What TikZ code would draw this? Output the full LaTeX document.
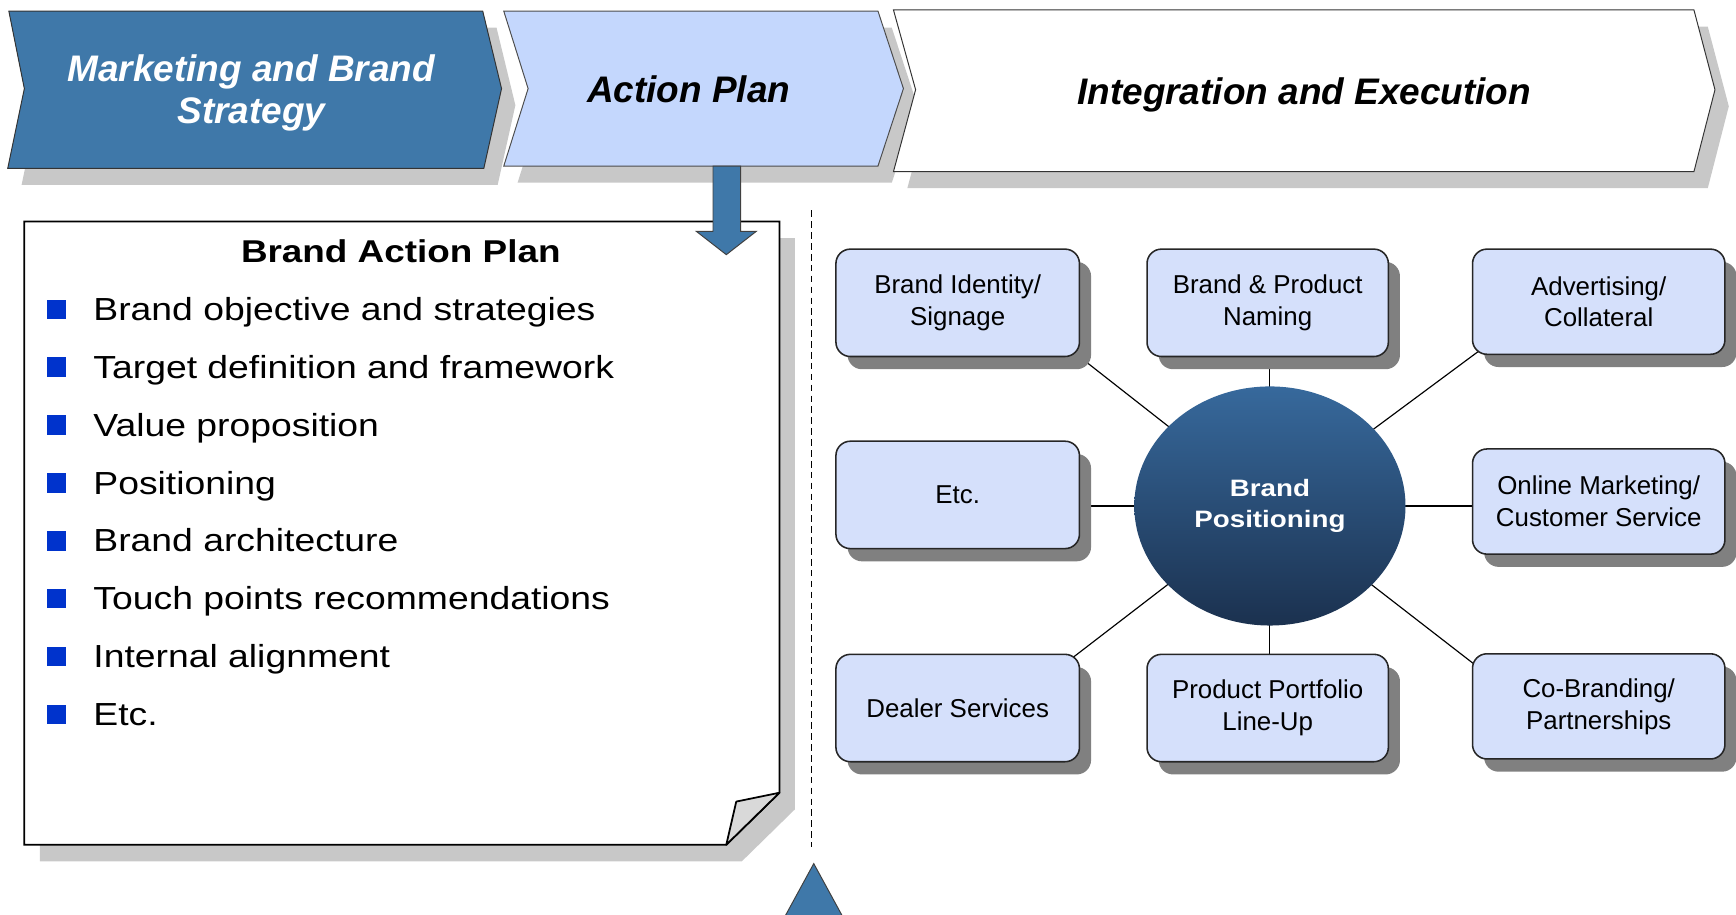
\documentclass[tikz,border=0pt]{standalone}
\usepackage{fontspec}
\setmainfont{Liberation Sans}
\newfontfamily\widefont[FakeStretch=1.17]{Liberation Sans}
\usetikzlibrary{shapes.geometric}
\usetikzlibrary{shadows}
\usetikzlibrary{positioning}

\definecolor{steel}{HTML}{3F78A9}
\definecolor{paleblue}{HTML}{C4D7FD}
\definecolor{boxblue}{HTML}{D5E0FB}
\definecolor{shadowgray}{HTML}{C8C8C8}
\definecolor{boxshadow}{HTML}{808080}
\definecolor{curlgray}{HTML}{D9D9D9}
\definecolor{bulletblue}{HTML}{0033CC}
\definecolor{ellTop}{HTML}{37699C}
\definecolor{ellBot}{HTML}{1B314F}

\pgfdeclarelayer{background}
\pgfsetlayers{background,main}

\begin{document}
\begin{tikzpicture}[x=0.02cm, y=-0.02cm,
  chevshadow/.style={drop shadow={shadow xshift=0.25cm, shadow yshift=-0.3cm, fill=shadowgray, opacity=1}},
  phase/.style={font=\fontsize{19}{21.6}\selectfont\bfseries\itshape, align=center},
  hub/.style={draw=black!85, line width=0.8pt, fill=boxblue, rounded corners=0.26cm,
    minimum width=4.4cm, minimum height=1.94cm, align=center, font=\fontsize{13.3}{16.4}\selectfont,
    drop shadow={shadow xshift=0.21cm, shadow yshift=-0.23cm, fill=boxshadow, opacity=1}},
  wide/.style={minimum width=4.56cm, minimum height=1.9cm},
  item/.style={anchor=base west, inner sep=0pt, font=\widefont\fontsize{16.4}{19}\selectfont},
  bulletsq/.style={fill=bulletblue, minimum size=0.35cm, inner sep=0pt},
  link/.style={line width=0.6pt}]

    \useasboundingbox (0,0) rectangle (1568,826);
    \clip (0,0) rectangle (1568,826);

    \draw[fill=steel, draw=black!80, line width=0.5pt, chevshadow] (8,10) -- (436,10) -- (453,80) -- (437,152) -- (7,152) -- (22,80) -- cycle;
    \node[phase, text=white] (mbs) at (227,84) {Marketing and Brand\\Strategy};

    \draw[fill=paleblue, draw=black!70, line width=0.5pt, chevshadow] (455,10) -- (793,10) -- (816,80) -- (793,150) -- (455,150) -- (477,80) -- cycle;
    \node[phase] (ap) at (622,81) {Action Plan};

    \draw[fill=white, draw=black!80, line width=0.5pt, chevshadow] (807,9) -- (1530,9) -- (1549,81) -- (1530,155) -- (807,155) -- (827,81) -- cycle;
    \node[phase] (ie) at (1178,86) {Integration and Execution};

    \draw[fill=white, line width=0.9pt, drop shadow={shadow xshift=0.28cm, shadow yshift=-0.3cm, fill=shadowgray, opacity=1}]
      (22,200) -- (704,200) -- (704,716) -- (656,763) -- (22,763) -- cycle;
    \draw[fill=curlgray, line width=0.9pt, line join=round] (704,716) -- (665,724) -- (656,763) -- cycle;

    \draw[fill=steel, draw=black!75, line width=0.5pt] (644,150) -- (669,150) -- (669,209) -- (683,209) -- (656,230) -- (629,209) -- (644,209) -- cycle;

    \node[font=\widefont\bfseries\fontsize{16.2}{19}\selectfont] (bap) at (362,227) {Brand Action Plan};
    \foreach \txt [count=\i] in {Brand objective and strategies, Target definition and framework,
        Value proposition, Positioning, Brand architecture, Touch points recommendations,
        Internal alignment, Etc.} {
      \node[bulletsq] (sq\i) at (51,227+52.3*\i) {};
      \node[item] (it\i) at (84,237+52.3*\i) {\txt};
    }

    \draw[dash pattern=on 3.4pt off 2.2pt, line width=0.9pt] (733,190) -- (733,765);
    \draw[fill=steel, draw=black!75, line width=0.5pt] (735,780) -- (765,835) -- (705,835) -- cycle;

    \node[ellipse, minimum width=4.9cm, minimum height=4.32cm, inner sep=0pt, top color=ellTop, bottom color=ellBot,
      text=white, align=center, font=\widefont\bfseries\fontsize{12.2}{15.9}\selectfont] (bp) at (1147,457) {Brand\\Positioning};

    \node[hub] (idn) at (865,273.5) {Brand Identity/\\Signage};
    \node[hub, minimum width=4.36cm] (nam) at (1145,273.5) {Brand \& Product\\Naming};
    \node[hub, wide] (adv) at (1444,272.5) {Advertising/\\Collateral};
    \node[hub] (etc) at (865,447) {Etc.};
    \node[hub, wide] (onl) at (1444,453) {Online Marketing/\\Customer Service};
    \node[hub] (dlr) at (865,639.5) {Dealer Services};
    \node[hub, minimum width=4.36cm] (pfl) at (1145,639.5) {Product Portfolio\\Line-Up};
    \node[hub, wide] (cob) at (1444,638) {Co-Branding/\\Partnerships};

    \begin{pgfonlayer}{background}
    \draw[link] (bp.center) -- (idn.south east);
    \draw[link] (bp.center) -- (bp.center |- nam.south);
    \draw[link] (bp.center) -- ([xshift=0.3cm, yshift=0.2cm]adv.south west);
    \draw[link] (bp.center) -- (etc.center |- bp.center);
    \draw[link] (bp.center) -- (onl.center |- bp.center);
    \draw[link] (bp.center) -- ([xshift=-0.3cm, yshift=-0.2cm]dlr.north east);
    \draw[link] (bp.center) -- (bp.center |- pfl.north);
    \draw[link] (bp.center) -- ([xshift=0.3cm, yshift=-0.4cm]cob.north west);
    \end{pgfonlayer}

\end{tikzpicture}
\end{document}
